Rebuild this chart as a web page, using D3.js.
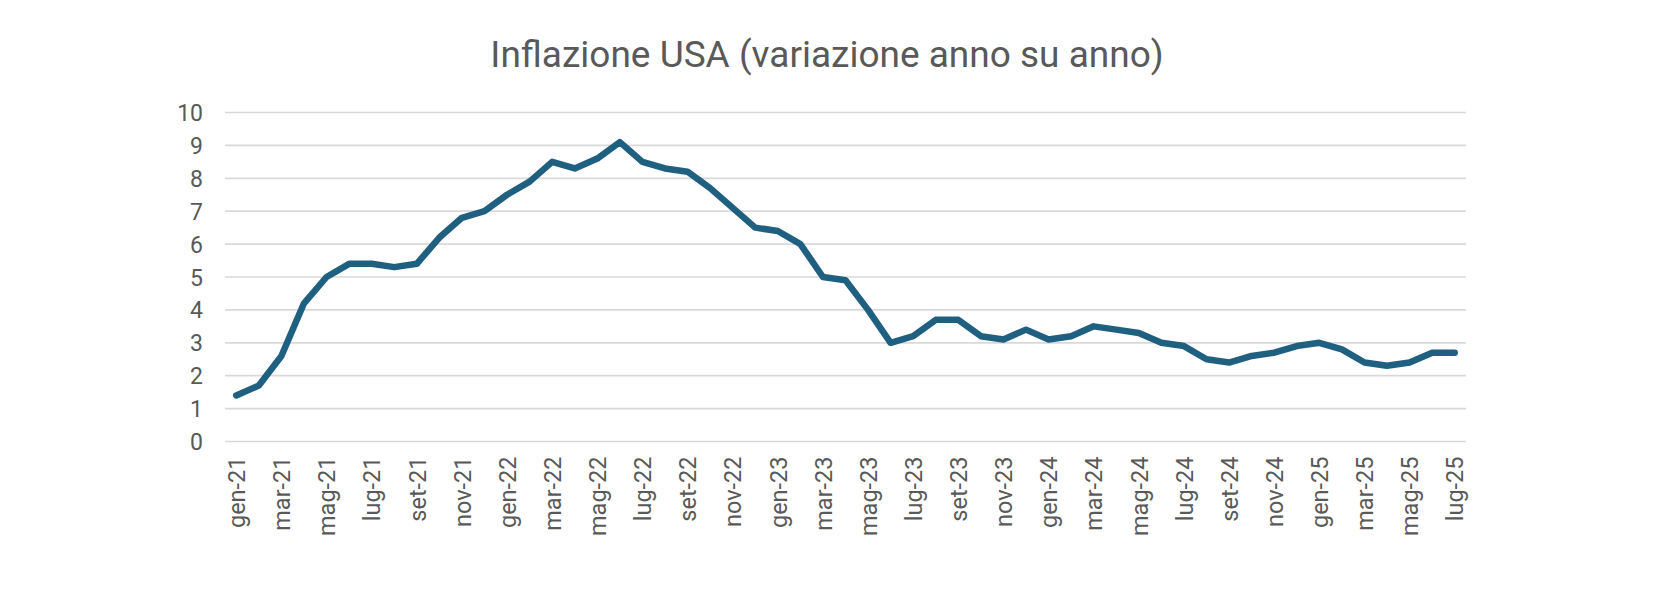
<!DOCTYPE html>
<html>
<head>
<meta charset="utf-8">
<script src="https://cdn.jsdelivr.net/npm/d3@7"></script>
<style>
  body { margin: 0; background: #fff; }
  svg text { font-family: Roboto, "Noto Sans", sans-serif; fill: #595959; }
</style>
</head>
<body>
<div id="chart-area"></div>
<script>
// mesi (gen-21 ... lug-25) e inflazione anno su anno
var years = ["21", "22", "23", "24", "25"];
var monthNames = ["gen", "feb", "mar", "apr", "mag", "giu", "lug", "ago", "set", "ott", "nov", "dic"];
var months = [];
years.forEach((y)=>{
  monthNames.forEach((m)=>{ months.push(m + "-" + y); });
});
months = months.slice(0, 55);

var inflation = [
  1.4, 1.7, 2.6, 4.2, 5.0, 5.4, 5.4, 5.3, 5.4, 6.2, 6.8, 7.0,
  7.5, 7.9, 8.5, 8.3, 8.6, 9.1, 8.5, 8.3, 8.2, 7.7, 7.1, 6.5,
  6.4, 6.0, 5.0, 4.9, 4.0, 3.0, 3.2, 3.7, 3.7, 3.2, 3.1, 3.4,
  3.1, 3.2, 3.5, 3.4, 3.3, 3.0, 2.9, 2.5, 2.4, 2.6, 2.7, 2.9,
  3.0, 2.8, 2.4, 2.3, 2.4, 2.7, 2.7
];
var yTicks = [0, 1, 2, 3, 4, 5, 6, 7, 8, 9, 10];
var title = "Inflazione USA (variazione anno su anno)";

var width = 1654;
var height = 598;
var plot = {left: 225, right: 1466, top: 112.5, bottom: 441.5};

var data = months.map((m, i)=>{ return {month: m, value: inflation[i]}; });

var svg = d3.select("#chart-area").append("svg")
  .attr("width", width)
  .attr("height", height);

var x = d3.scalePoint()
  .domain(months)
  .range([plot.left, plot.right])
  .padding(0.5);

var y = d3.scaleLinear()
  .domain([0, 10])
  .range([plot.bottom, plot.top]);

// griglia orizzontale
svg.append("g")
  .attr("class", "grid")
  .selectAll("line")
  .data(yTicks)
  .enter()
  .append("line")
  .attr("x1", plot.left)
  .attr("x2", plot.right)
  .attr("y1", (d)=>{ return y(d); })
  .attr("y2", (d)=>{ return y(d); })
  .attr("stroke", "#d9d9d9")
  .attr("stroke-width", 1.7);

// asse y
var leftAxis = d3.axisLeft(y)
  .tickValues(yTicks)
  .tickSize(0)
  .tickPadding(0);
var gy = svg.append("g")
  .attr("class", "left axis")
  .attr("transform", "translate(203,0)")
  .call(leftAxis);
gy.select(".domain").remove();
gy.selectAll("text")
  .attr("font-size", "23px")
  .attr("fill", "#595959")
  .attr("x", 0)
  .attr("dy", "0.35em");

// asse x, un'etichetta ogni due mesi
var bottomAxis = d3.axisBottom(x)
  .tickValues(months.filter((d, i)=>{ return i % 2 === 0; }))
  .tickSize(0);
var gx = svg.append("g")
  .attr("class", "bottom axis")
  .attr("transform", "translate(0," + plot.bottom + ")")
  .call(bottomAxis);
gx.select(".domain").remove();
gx.selectAll("text")
  .attr("font-size", "23.5px")
  .attr("fill", "#595959")
  .attr("text-anchor", "end")
  .attr("x", -15)
  .attr("y", 0)
  .attr("dy", "0.35em")
  .attr("transform", "rotate(-90)");

// linea
var line = d3.line()
  .x((d)=>{ return x(d.month); })
  .y((d)=>{ return y(d.value); });

svg.append("path")
  .datum(data)
  .attr("d", line)
  .attr("fill", "none")
  .attr("stroke", "#1f5f7f")
  .attr("stroke-width", 6.5)
  .attr("stroke-linejoin", "round")
  .attr("stroke-linecap", "round");

// titolo
svg.append("text")
  .attr("x", width / 2)
  .attr("y", 67)
  .attr("font-size", "37px")
  .attr("text-anchor", "middle")
  .attr("fill", "#595959")
  .text(title);
</script>
</body>
</html>
